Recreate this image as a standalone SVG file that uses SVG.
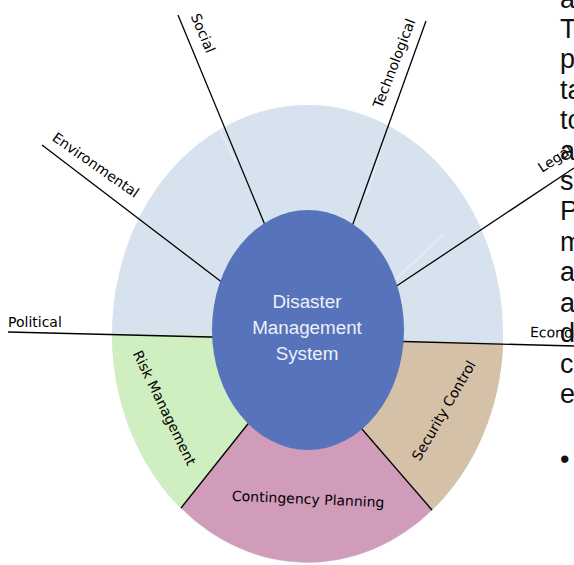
<svg xmlns="http://www.w3.org/2000/svg" width="574" height="565" viewBox="0 0 574 565">
<style>
.conn{stroke:#000;stroke-width:1.3;fill:none}
.lbl{font-family:"DejaVu Sans",sans-serif;font-size:14px;fill:#000}
.ctr{font-family:"Liberation Sans",Arial,sans-serif;font-size:18.8px;fill:#eef1f9;text-anchor:middle}
.para{font-family:"Liberation Sans",Arial,sans-serif;font-size:27px;fill:#111}
.seam{stroke:#e2ebf6;stroke-width:2;fill:none}
</style>
<rect width="574" height="565" fill="#fff"/>
<g id="outer-ring">
<ellipse cx="307.5" cy="334" rx="195.5" ry="229" fill="#d6e2ee"/>
<path class="seam" d="M220,130 L236,162"/>
<path class="seam" d="M388,127 L366,196"/>
<path class="seam" d="M396,279 L444,234"/>
</g>
<g id="risk-management">
<path d="M112,335 A195.5,229 0 0,0 181,508 L246,426 L308,335 Z" fill="#d0efc0"/>
<text class="lbl" transform="translate(160,410) rotate(64)" text-anchor="middle">Risk Management</text>
</g>
<g id="contingency-planning">
<path d="M181,508 A195.5,229 0 0,0 432,510 L363,431 L308,335 L246,426 Z" fill="#d09cba"/>
<text class="lbl" transform="translate(308,504) rotate(2.5)" text-anchor="middle">Contingency Planning</text>
</g>
<g id="security-control">
<path d="M432,510 A195.5,229 0 0,0 503.2,343 L402,341 L308,335 L363,431 Z" fill="#d5c1a8"/>
<text class="lbl" transform="translate(448,413) rotate(-60)" text-anchor="middle">Security Control</text>
</g>
<g id="connectors">
<path class="conn" d="M8,332 L230,337.5"/>
<path class="conn" d="M42,145 L240,296"/>
<path class="conn" d="M178,15 L272,242"/>
<path class="conn" d="M426,21 L345,246"/>
<path class="conn" d="M574,168 L380,297"/>
<path class="conn" d="M385,341 L574,346"/>
<path class="conn" d="M255,415 L181,508"/>
<path class="conn" d="M355,421 L432,510"/>
</g>
<g id="center">
<ellipse cx="308" cy="330" rx="96" ry="120" fill="#5673bb"/>
<text class="ctr" x="307" y="308">Disaster</text>
<text class="ctr" x="307" y="334">Management</text>
<text class="ctr" x="307" y="360">System</text>
</g>
<g id="labels">
<text class="lbl" x="8" y="327">Political</text>
<text class="lbl" transform="translate(93,169) rotate(35)" text-anchor="middle">Environmental</text>
<text class="lbl" transform="translate(198.5,35) rotate(67)" text-anchor="middle">Social</text>
<text class="lbl" transform="translate(398.7,65) rotate(-69)" text-anchor="middle">Technological</text>
<text class="lbl" transform="translate(542,173) rotate(-33)">Legal</text>
<text class="lbl" transform="translate(530,337) rotate(1)">Economic</text>
</g>
<g id="overflow-text">
<text class="para" x="560" y="8">a</text>
<text class="para" x="560" y="38">T</text>
<text class="para" x="560" y="68">p</text>
<text class="para" x="560" y="99">ta</text>
<text class="para" x="560" y="129">to</text>
<text class="para" x="560" y="160">a</text>
<text class="para" x="560" y="190">s</text>
<text class="para" x="560" y="220">P</text>
<text class="para" x="560" y="251">m</text>
<text class="para" x="560" y="281">a</text>
<text class="para" x="560" y="312">a</text>
<text class="para" x="560" y="342">d</text>
<text class="para" x="560" y="373">c</text>
<text class="para" x="560" y="403">e</text>
<text class="para" x="560" y="468">•</text>
</g>
</svg>
